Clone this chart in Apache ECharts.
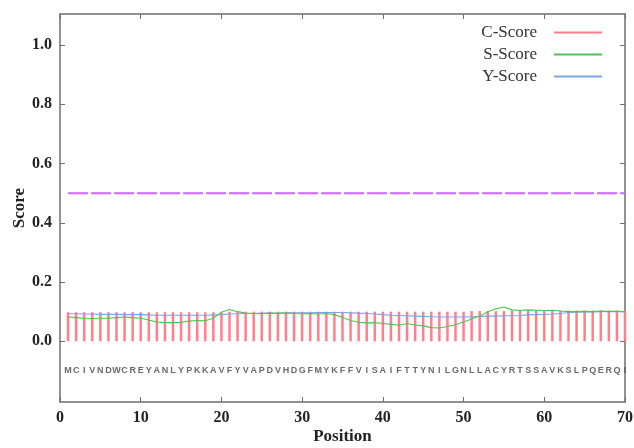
<!DOCTYPE html>
<html>
<head>
<meta charset="utf-8">
<script src="https://cdn.jsdelivr.net/npm/echarts@6/dist/echarts.min.js"></script>
<style>
  html, body { margin: 0; padding: 0; background: #fff; }
  #chart { width: 634px; height: 448px; }
</style>
</head>
<body>
<div id="chart"></div>
<script>
// residues along the sequence, one per position
const sequence = 'MCIVNDWCREYANLYPKKAVFYVAPDVHDGFMYKFFVISAIFTTYNILGNLLACYRTSSAVKSLPQERQI';

const cScore = [
  0.098, 0.098, 0.098, 0.098, 0.098, 0.098, 0.098, 0.098, 0.098, 0.098,
  0.098, 0.098, 0.098, 0.098, 0.098, 0.098, 0.098, 0.098, 0.098, 0.098,
  0.100, 0.100, 0.100, 0.100, 0.100, 0.100, 0.100, 0.100, 0.100, 0.100,
  0.100, 0.100, 0.100, 0.100, 0.100, 0.100, 0.100, 0.100, 0.100, 0.100,
  0.100, 0.100, 0.100, 0.100, 0.100, 0.100, 0.100, 0.100, 0.100, 0.100,
  0.102, 0.102, 0.102, 0.102, 0.102, 0.104, 0.104, 0.104, 0.104, 0.104,
  0.104, 0.104, 0.104, 0.104, 0.104, 0.104, 0.104, 0.104, 0.104, 0.104
];

const sScore = [
  0.082, 0.080, 0.078, 0.077, 0.078, 0.078, 0.080, 0.082, 0.080, 0.078,
  0.072, 0.065, 0.063, 0.063, 0.064, 0.068, 0.070, 0.069, 0.078, 0.098,
  0.107, 0.100, 0.095, 0.094, 0.093, 0.095, 0.094, 0.096, 0.094, 0.093,
  0.094, 0.092, 0.094, 0.090, 0.080, 0.070, 0.064, 0.062, 0.063, 0.060,
  0.057, 0.054, 0.060, 0.055, 0.052, 0.046, 0.045, 0.050, 0.056, 0.065,
  0.075, 0.085, 0.100, 0.110, 0.116, 0.106, 0.104, 0.106, 0.105, 0.104,
  0.105, 0.102, 0.100, 0.100, 0.101, 0.100, 0.102, 0.101, 0.101, 0.100
];

const yScore = [
  0.093, 0.093, 0.092, 0.092, 0.091, 0.091, 0.091, 0.090, 0.090, 0.090,
  0.089, 0.088, 0.088, 0.088, 0.088, 0.088, 0.088, 0.088, 0.089, 0.090,
  0.092, 0.093, 0.094, 0.094, 0.095, 0.095, 0.095, 0.096, 0.096, 0.096,
  0.096, 0.097, 0.097, 0.097, 0.097, 0.096, 0.095, 0.094, 0.092, 0.090,
  0.088, 0.087, 0.086, 0.085, 0.084, 0.083, 0.082, 0.082, 0.082, 0.082,
  0.083, 0.084, 0.085, 0.085, 0.086, 0.086, 0.087, 0.089, 0.090, 0.091,
  0.092, 0.094, 0.097, 0.098, 0.099, 0.099, 0.100, 0.100, 0.100, 0.100
];

const cutoff = 0.5;
const yTicks = [0, 0.2, 0.4, 0.6, 0.8, 1.0];
const xTicks = [0, 10, 20, 30, 40, 50, 60, 70];
const residueY = -0.1;

const chart = echarts.init(document.getElementById('chart'));

const serif = 'Liberation Serif';
const axisColor = '#6e6e6e';

const pos = (arr) => arr.map((v, i) => [i + 1, v]);

const option = {
  animation: false,
  grid: { left: 60, right: 9, top: 14, bottom: 46, outerBoundsMode: 'none', containLabel: false },
  legend: {
    orient: 'vertical',
    right: 27,
    top: 19,
    align: 'right',
    itemWidth: 48,
    itemHeight: 2,
    itemGap: 5,
    icon: 'rect',
    textStyle: { fontFamily: serif, fontSize: 17, color: '#333', padding: [0, 12, 0, 0] },
    data: ['C-Score', 'S-Score', 'Y-Score']
  },
  xAxis: [
    {
      type: 'value', min: 0, max: 70, interval: 10,
      name: 'Position', nameLocation: 'middle', nameGap: 26, nameMoveOverlap: false,
      nameTextStyle: { fontFamily: serif, fontWeight: 'bold', fontSize: 17, color: '#222' },
      axisLine: { show: true, onZero: false, lineStyle: { color: axisColor, width: 1.5 } },
      axisTick: { show: true, inside: true, length: 5, lineStyle: { color: axisColor } },
      axisLabel: { fontFamily: serif, fontWeight: 'bold', fontSize: 16, color: '#222', margin: 8,
                   customValues: xTicks },
      splitLine: { show: false }
    },
    {
      type: 'value', min: 0, max: 70, interval: 10, position: 'top',
      axisLine: { show: true, onZero: false, lineStyle: { color: axisColor, width: 1.5 } },
      axisTick: { show: true, inside: true, length: 5, lineStyle: { color: axisColor } },
      axisLabel: { show: false },
      splitLine: { show: false }
    }
  ],
  yAxis: [
    {
      type: 'value', min: -0.205, max: 1.105,
      name: 'Score', nameLocation: 'middle', nameGap: 32, nameMoveOverlap: false,
      nameTextStyle: { fontFamily: serif, fontWeight: 'bold', fontSize: 17, color: '#222' },
      axisLine: { show: true, onZero: false, lineStyle: { color: axisColor, width: 1.5 } },
      axisTick: { show: true, inside: true, length: 5, lineStyle: { color: axisColor }, customValues: yTicks },
      axisLabel: { fontFamily: serif, fontWeight: 'bold', fontSize: 16, color: '#222', margin: 8,
                   customValues: yTicks, formatter: (v) => v.toFixed(1) },
      splitLine: { show: false }
    },
    {
      type: 'value', min: -0.205, max: 1.105, position: 'right',
      axisLine: { show: true, onZero: false, lineStyle: { color: axisColor, width: 1.5 } },
      axisTick: { show: true, inside: true, length: 5, lineStyle: { color: axisColor }, customValues: yTicks },
      axisLabel: { show: false },
      splitLine: { show: false }
    }
  ],
  series: [
    {
      name: 'C-Score', type: 'bar', barWidth: 2.5,
      itemStyle: { color: '#ff7f8a' },
      data: pos(cScore),
      z: 2
    },
    {
      name: 'Y-Score', type: 'line', showSymbol: false,
      lineStyle: { color: '#78a6e6', width: 1.1 },
      itemStyle: { color: '#78a6e6' },
      data: pos(yScore),
      z: 3
    },
    {
      name: 'S-Score', type: 'line', showSymbol: false,
      lineStyle: { color: '#4cc552', width: 1.1 },
      itemStyle: { color: '#4cc552' },
      data: pos(sScore),
      z: 4
    },
    {
      name: 'cutoff', type: 'line', showSymbol: false,
      lineStyle: { color: '#cc66ff', width: 2, type: [20, 3] },
      data: [[1, cutoff], [70, cutoff]],
      z: 3
    },
    {
      name: 'residues', type: 'scatter', symbolSize: 0,
      data: sequence.split('').map((c, i) => ({ value: [i + 1, residueY], res: c })),
      label: {
        show: true, position: 'inside',
        formatter: (p) => p.data.res,
        fontFamily: 'Liberation Sans', fontSize: 9, fontWeight: 'bold', color: '#444'
      },
      silent: true
    }
  ]
};

chart.setOption(option);

window.addEventListener('resize', function () {
  chart.resize();
});
</script>
</body>
</html>
